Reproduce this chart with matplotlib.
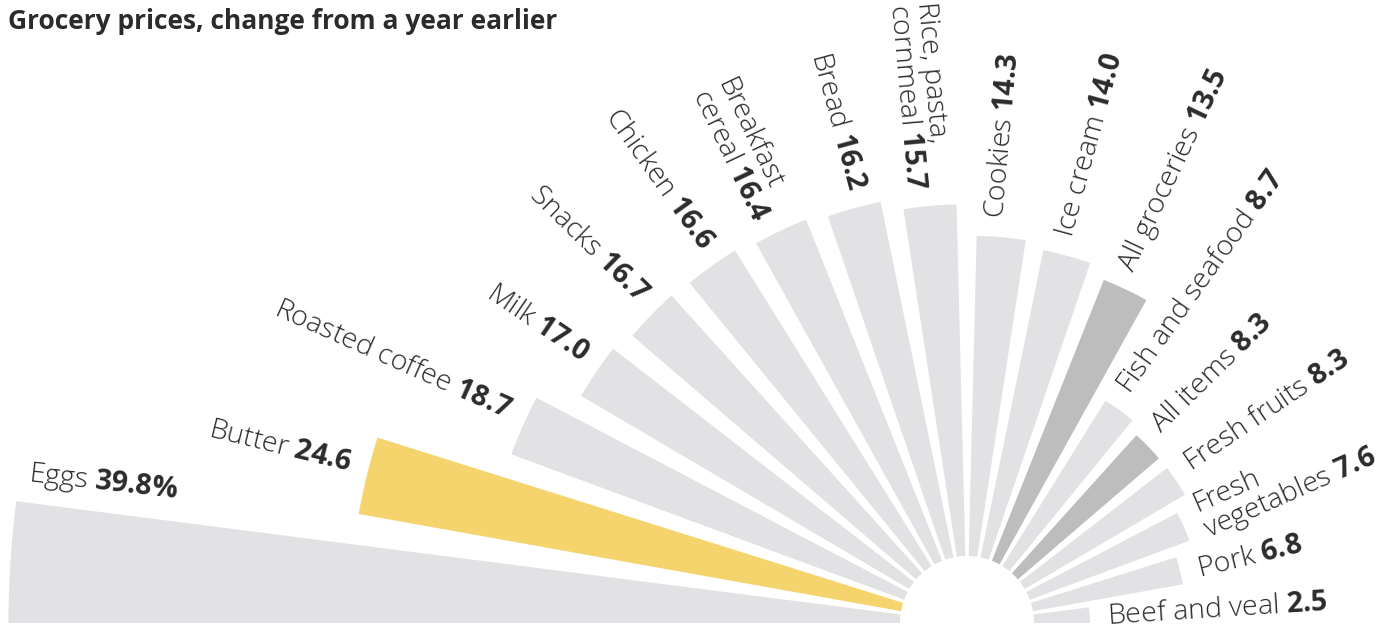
import numpy as np
import matplotlib
matplotlib.use("Agg")
import matplotlib.pyplot as plt

plt.rcParams['font.family'] = ['Open Sans', 'DejaVu Sans']
plt.rcParams['mathtext.fontset'] = 'custom'
plt.rcParams['mathtext.rm'] = 'Open Sans'
plt.rcParams['mathtext.bf'] = 'Open Sans:bold'

# ---- data ----
categories = ["Eggs", "Butter", "Roasted coffee", "Milk", "Snacks", "Chicken",
              "Breakfast\ncereal", "Bread", "Rice, pasta,\ncornmeal", "Cookies",
              "Ice cream", "All groceries", "Fish and seafood", "All items",
              "Fresh fruits", "Fresh\nvegetables", "Pork", "Beef and veal"]
values = [39.8, 24.6, 18.7, 17.0, 16.7, 16.6, 16.4, 16.2, 15.7, 14.3,
          14.0, 13.5, 8.7, 8.3, 8.3, 7.6, 6.8, 2.5]
value_labels = ["39.8%", "24.6", "18.7", "17.0", "16.7", "16.6", "16.4", "16.2",
                "15.7", "14.3", "14.0", "13.5", "8.7", "8.3", "8.3", "7.6", "6.8", "2.5"]
highlight = {"Butter": "#f5d46e", "All groceries": "#bdbdbd", "All items": "#bdbdbd"}
base_color = "#e2e2e4"
text_color = "#2b2b2b"

# ---- layout ----
W, H, DPI = 1400, 631, 100
cx, cy = 967, 8            # pixel position of the centre (from bottom-left)
R_ax = 1000                # axes radius in pixels
px_per_unit = 22.4
rmax = R_ax / px_per_unit
inner = 67 / px_per_unit   # inner hole radius
pad = 18 / px_per_unit
theta_shift = {"Pork": -2.6, "Beef and veal": -4.0}   # degrees, label nudges

n = len(values)
w_deg = 7.3
g_deg = (180 - n * w_deg) / (n - 1)
theta_c = np.deg2rad(180 - w_deg / 2 - np.arange(n) * (w_deg + g_deg))

fig = plt.figure(figsize=(W / DPI, H / DPI), dpi=DPI)
ax = fig.add_axes([(cx - R_ax) / W, (cy - R_ax) / H, 2 * R_ax / W, 2 * R_ax / H],
                  projection='polar')
ax.set_ylim(0, rmax)
ax.axis('off')

colors = [highlight.get(c, base_color) for c in categories]
ax.bar(theta_c, values, width=np.deg2rad(w_deg), bottom=inner, color=colors,
       edgecolor='none', align='center')

fs = 20.5
for i, (cat, v, vl, th) in enumerate(zip(categories, values, value_labels, theta_c)):
    s = cat + r" $\mathbf{" + vl.replace("%", r"\%") + "}$"
    deg = np.rad2deg(th)
    multi = "\n" in cat
    r = inner + v + pad
    if cat == "Eggs":
        ax.text(np.deg2rad(171.0), 42.4, s, rotation=-6.5, rotation_mode='anchor',
                ha='left', va='center', fontsize=fs, color=text_color, fontweight=300)
        continue
    va = 'center' if multi else 'baseline'
    th_t = np.deg2rad(deg + theta_shift.get(cat, 0.0))
    if deg > 90:
        ax.text(th_t, r, s, rotation=deg - 180, rotation_mode='anchor', ha='right',
                va=va, multialignment='left', fontsize=fs, color=text_color,
                linespacing=0.95, fontweight=300)
    else:
        ax.text(th_t, r, s, rotation=deg, rotation_mode='anchor', ha='left',
                va=va, multialignment='left', fontsize=fs, color=text_color,
                linespacing=0.95, fontweight=300)

fig.text(8 / W, 1 - 8 / H, "Grocery prices, change from a year earlier",
         ha='left', va='top', fontsize=19, fontweight='bold', color=text_color)

fig.savefig("out.png", dpi=DPI)
